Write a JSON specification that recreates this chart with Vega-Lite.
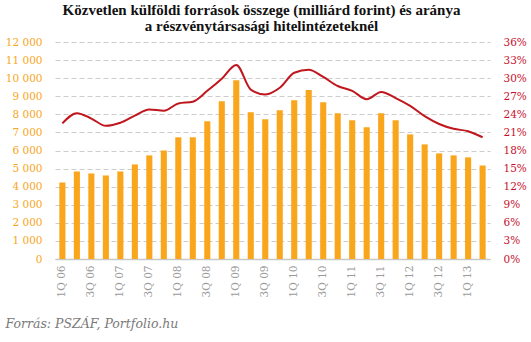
{
  "$schema": "https://vega.github.io/schema/vega-lite/v6.json",
  "width": 435,
  "height": 217,
  "autosize": {"type": "none"},
  "padding": {"left": 55, "top": 42, "right": 41, "bottom": 83},
  "background": "white",
  "title": {
    "text": ["Közvetlen külföldi források összege (milliárd forint) és aránya", "a részvénytársasági hitelintézeteknél"],
    "font": "Liberation Serif",
    "fontSize": 15,
    "fontWeight": "bold",
    "color": "#111111",
    "anchor": "middle",
    "offset": 3,
    "lineHeight": 16,
    "dx": -11
  },
  "data": {
    "values": [
      {"q": "1Q 06", "amount": 4230, "ratio": 22.5},
      {"q": "2Q 06", "amount": 4840, "ratio": 24.2},
      {"q": "3Q 06", "amount": 4730, "ratio": 23.3},
      {"q": "4Q 06", "amount": 4620, "ratio": 22.1},
      {"q": "1Q 07", "amount": 4840, "ratio": 22.6},
      {"q": "2Q 07", "amount": 5230, "ratio": 23.8},
      {"q": "3Q 07", "amount": 5730, "ratio": 24.8},
      {"q": "4Q 07", "amount": 6000, "ratio": 24.6},
      {"q": "1Q 08", "amount": 6730, "ratio": 25.8},
      {"q": "2Q 08", "amount": 6730, "ratio": 26.1},
      {"q": "3Q 08", "amount": 7620, "ratio": 27.9},
      {"q": "4Q 08", "amount": 8730, "ratio": 29.9},
      {"q": "1Q 09", "amount": 9890, "ratio": 32.2},
      {"q": "2Q 09", "amount": 8120, "ratio": 28.1},
      {"q": "3Q 09", "amount": 7730, "ratio": 27.3},
      {"q": "4Q 09", "amount": 8230, "ratio": 28.4},
      {"q": "1Q 10", "amount": 8780, "ratio": 30.9},
      {"q": "2Q 10", "amount": 9340, "ratio": 31.4},
      {"q": "3Q 10", "amount": 8670, "ratio": 30.2},
      {"q": "4Q 10", "amount": 8060, "ratio": 28.7},
      {"q": "1Q 11", "amount": 7670, "ratio": 27.9},
      {"q": "2Q 11", "amount": 7280, "ratio": 26.5},
      {"q": "3Q 11", "amount": 8060, "ratio": 27.7},
      {"q": "4Q 11", "amount": 7670, "ratio": 26.7},
      {"q": "1Q 12", "amount": 6890, "ratio": 25.4},
      {"q": "2Q 12", "amount": 6340, "ratio": 23.7},
      {"q": "3Q 12", "amount": 5840, "ratio": 22.4},
      {"q": "4Q 12", "amount": 5730, "ratio": 21.6},
      {"q": "1Q 13", "amount": 5620, "ratio": 21.2},
      {"q": "2Q 13", "amount": 5170, "ratio": 20.2}
    ]
  },
  "encoding": {
    "x": {
      "field": "q",
      "type": "nominal",
      "sort": null,
      "scale": {"paddingInner": 0.58, "paddingOuter": 0.3},
      "axis": {
        "values": ["1Q 06", "3Q 06", "1Q 07", "3Q 07", "1Q 08", "3Q 08", "1Q 09", "3Q 09", "1Q 10", "3Q 10", "1Q 11", "3Q 11", "1Q 12", "3Q 12", "1Q 13"],
        "labelAngle": -90,
        "labelFont": "DejaVu Serif",
        "labelFontSize": 10.5,
        "labelColor": "#9a9a9a",
        "labelPadding": 6,
        "ticks": false,
        "domainColor": "#c8c8c8",
        "domainWidth": 1.5,
        "title": "Forrás: PSZÁF, Portfolio.hu",
        "titleFont": "DejaVu Serif",
        "titleFontSize": 12.5,
        "titleFontStyle": "italic",
        "titleFontWeight": "normal",
        "titleColor": "#7a7a7a",
        "titleAnchor": "start",
        "titleAlign": "left",
        "titleBaseline": "alphabetic",
        "titleX": -50,
        "titleY": 68
      }
    }
  },
  "layer": [
    {
      "mark": {"type": "bar", "color": "#F9A61C"},
      "encoding": {
        "y": {
          "field": "amount",
          "type": "quantitative",
          "scale": {"domain": [0, 12000], "nice": false},
          "axis": {
            "values": [0, 1000, 2000, 3000, 4000, 5000, 6000, 7000, 8000, 9000, 10000, 11000, 12000],
            "labelExpr": "replace(format(datum.value, ','), ',', ' ')",
            "labelFont": "DejaVu Serif",
            "labelFontSize": 10.5,
            "labelColor": "#F9A61C",
            "labelPadding": 13,
            "ticks": false,
            "domain": false,
            "grid": true,
            "gridColor": "#cccccc",
            "gridDash": [5, 3],
            "gridWidth": 1,
            "title": null
          }
        }
      }
    },
    {
      "mark": {"type": "line", "color": "#C0161D", "strokeWidth": 2, "interpolate": "monotone"},
      "encoding": {
        "y": {
          "field": "ratio",
          "type": "quantitative",
          "scale": {"domain": [0, 36], "nice": false},
          "axis": {
            "orient": "right",
            "values": [0, 3, 6, 9, 12, 15, 18, 21, 24, 27, 30, 33, 36],
            "labelExpr": "datum.value + '%'",
            "labelFont": "DejaVu Serif",
            "labelFontSize": 10.5,
            "labelColor": "#C8102E",
            "labelPadding": 13,
            "ticks": false,
            "domain": false,
            "grid": false,
            "title": null
          }
        }
      }
    }
  ],
  "resolve": {"scale": {"y": "independent"}},
  "config": {"view": {"stroke": null}}
}
